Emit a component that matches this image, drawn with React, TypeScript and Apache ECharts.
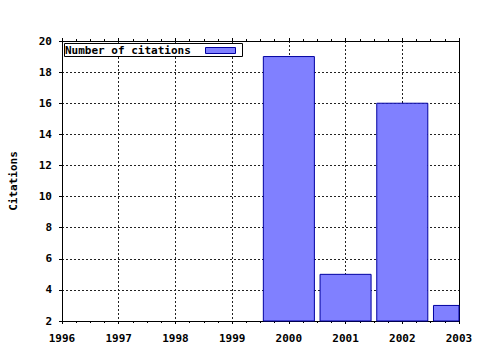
import React, { useEffect, useRef } from "react";
import * as echarts from "echarts";

const years = [2000, 2001, 2002, 2003];
const citations = [19, 5, 16, 3];
const xMin = 1996;
const xMax = 2003;
const yMin = 2;
const yMax = 20;
const yStep = 2;
const seriesName = "Number of citations";
const yTitle = "Citations";
const barWidthYears = 0.9;

const FONT = "'DejaVu Sans Mono', monospace";
const FILL = "#8080ff";
const STROKE = "#0000a0";

export default function App() {
  const ref = useRef<HTMLDivElement>(null);
  useEffect(() => {
    const chart = echarts.init(ref.current!, null, { renderer: "svg" });
    const data = years.map((y, i) => [y, citations[i]]);
    const labelStyle = {
      fontFamily: FONT,
      fontWeight: "bold",
      fontSize: 11,
      color: "#000",
    };
    const gridLine = {
      show: true,
      lineStyle: { color: "#222", width: 1, type: [2, 2] },
    };
    chart.setOption({
      animation: false,
      backgroundColor: "#fff",
      grid: { left: 57, right: 21, top: 41, bottom: 29, containLabel: false },
      xAxis: [
        {
          type: "value",
          position: "bottom",
          min: xMin,
          max: xMax,
          interval: 1,
          axisLine: { show: true, lineStyle: { color: "#000", width: 1 } },
          axisTick: { show: true, inside: false, length: 3, lineStyle: { color: "#000" } },
          minorTick: { show: true, splitNumber: 4, length: 2, lineStyle: { color: "#000" } },
          axisLabel: { ...labelStyle, margin: 12, formatter: (v: number) => String(v) },
          splitLine: gridLine,
        },
        {
          type: "value",
          position: "top",
          min: xMin,
          max: xMax,
          interval: 1,
          axisLine: { show: true, lineStyle: { color: "#000", width: 1 } },
          axisTick: { show: true, inside: false, length: 3, lineStyle: { color: "#000" } },
          minorTick: { show: true, splitNumber: 4, length: 2, lineStyle: { color: "#000" } },
          axisLabel: { show: false },
          splitLine: { show: false },
        },
      ],
      yAxis: [
        {
          type: "value",
          position: "left",
          min: yMin,
          max: yMax,
          interval: yStep,
          name: yTitle,
          nameLocation: "middle",
          nameRotate: 90,
          nameGap: 43,
          nameTextStyle: { ...labelStyle },
          axisLine: { show: true, lineStyle: { color: "#000", width: 1 } },
          axisTick: { show: true, inside: false, length: 3, lineStyle: { color: "#000" } },
          axisLabel: { ...labelStyle, margin: 10 },
          splitLine: gridLine,
        },
        {
          type: "value",
          position: "right",
          min: yMin,
          max: yMax,
          interval: yStep,
          axisLine: { show: true, lineStyle: { color: "#000", width: 1 } },
          axisTick: { show: false },
          axisLabel: { show: false },
          splitLine: { show: false },
        },
      ],
      series: [
        {
          type: "custom",
          name: seriesName,
          xAxisIndex: 0,
          yAxisIndex: 0,
          data,
          encode: { x: 0, y: 1 },
          z: 1,
          renderItem: (params: any, api: any) => {
            const x = api.value(0);
            const y = api.value(1);
            const p1 = api.coord([x - barWidthYears / 2, y]);
            const p2 = api.coord([x + barWidthYears / 2, yMin]);
            const cs = params.coordSys;
            const rect = echarts.graphic.clipRectByRect(
              { x: p1[0], y: p1[1], width: p2[0] - p1[0], height: p2[1] - p1[1] },
              { x: cs.x, y: cs.y, width: cs.width, height: cs.height }
            );
            if (!rect) return null;
            return {
              type: "rect",
              shape: rect,
              style: { fill: FILL, stroke: STROKE, lineWidth: 1 },
            };
          },
        },
      ],
      graphic: [
        {
          type: "rect",
          z: 100,
          shape: { x: 64.5, y: 43.5, width: 178, height: 13 },
          style: { fill: "#fff", stroke: "#000", lineWidth: 1 },
        },
        {
          type: "text",
          z: 101,
          x: 65,
          y: 50.5,
          style: {
            text: seriesName,
            fontFamily: FONT,
            fontWeight: "bold",
            fontSize: 11,
            fill: "#000",
            verticalAlign: "middle",
            align: "left",
          },
        },
        {
          type: "rect",
          z: 101,
          shape: { x: 205.5, y: 47.5, width: 30, height: 6 },
          style: { fill: FILL, stroke: STROKE, lineWidth: 1 },
        },
      ],
    });
    return () => chart.dispose();
  }, []);
  return (
    <div
      ref={ref}
      style={{ position: "fixed", left: 0, top: 0, width: 480, height: 350 }}
    />
  );
}
